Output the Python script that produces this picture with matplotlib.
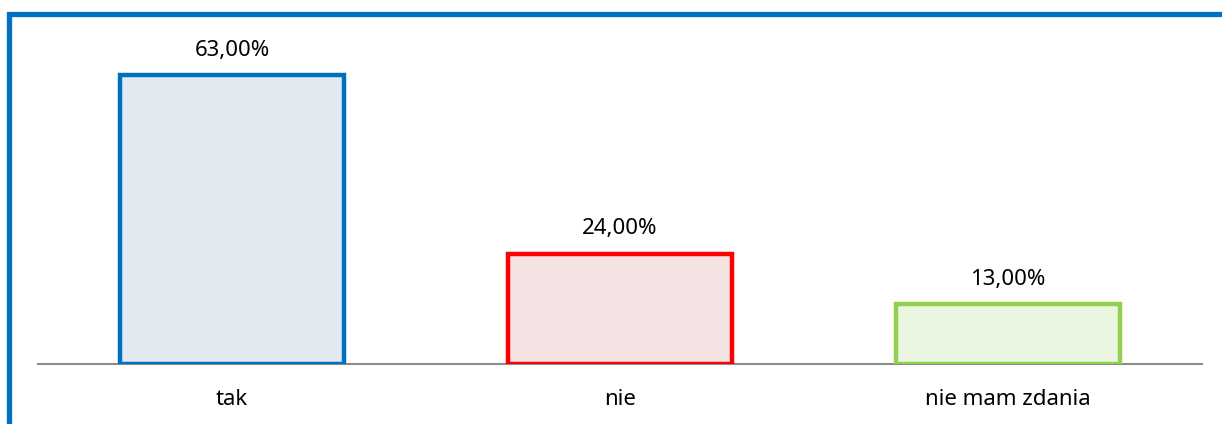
import matplotlib
matplotlib.use('Agg')
import matplotlib.pyplot as plt
import matplotlib.patheffects as pe
from matplotlib.patches import Rectangle

# Data
categories = ["tak", "nie", "nie mam zdania"]
values = [63.0, 24.0, 13.0]
edge_colors = ["#0070C0", "#FF0000", "#92D050"]
fill_colors = ["#E2E9F1", "#F4E3E3", "#EAF6DF"]

plt.rcParams['font.family'] = ['Noto Sans', 'DejaVu Sans']

fig = plt.figure(figsize=(12.22, 4.24), dpi=100)
ax = fig.add_axes([38 / 1222, 60 / 424, 1164 / 1222, 321 / 424])

x = range(len(categories))
bars = ax.bar(x, values, width=0.575, color=fill_colors, edgecolor=edge_colors,
              linewidth=3.2, zorder=3)
for b in bars:
    b.set_path_effects([pe.SimplePatchShadow(offset=(1.5, -1.5), alpha=0.15), pe.Normal()])

for xi, v in zip(x, values):
    ax.annotate(f"{v:.2f}%".replace(".", ","), (xi, v), xytext=(0, 10.5),
                textcoords="offset points", ha="center", va="bottom", fontsize=16)

ax.set_xlim(-0.5, 2.5)
ax.set_ylim(0, 70)
ax.set_xticks(list(x))
ax.set_xticklabels(categories, fontsize=16)
ax.tick_params(axis='x', length=0, pad=18)
ax.set_yticks([])
for s in ["top", "right", "left"]:
    ax.spines[s].set_visible(False)
ax.spines["bottom"].set_color("#8C8C8C")
ax.spines["bottom"].set_linewidth(1.5)
ax.spines["bottom"].set_zorder(2)

# outer frame (cut off at right and bottom)
fig.patches.append(Rectangle((9 / 1222, -0.1), 1.2, 1 - 14 / 424 + 0.1,
                             transform=fig.transFigure, fill=False,
                             edgecolor="#0070C0", linewidth=3.8))

fig.savefig("out.png", dpi=100)
